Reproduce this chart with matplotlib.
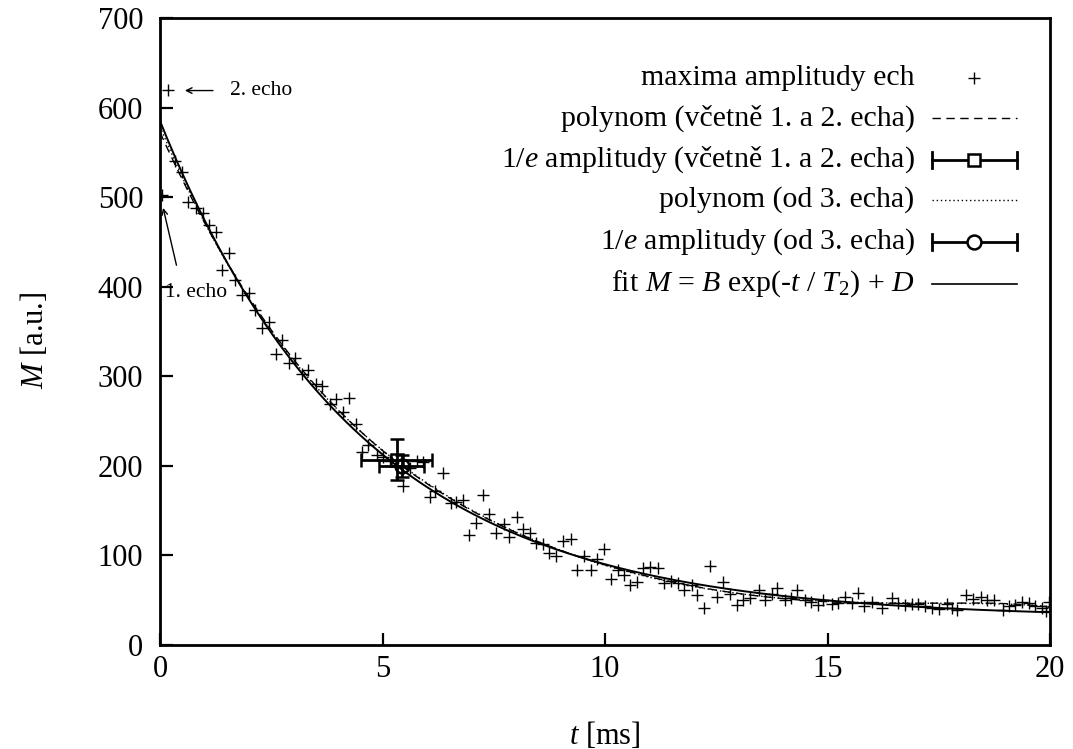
import numpy as np
import matplotlib
matplotlib.use("Agg")
import matplotlib.pyplot as plt

plt.rcParams['font.family'] = ['Liberation Serif', 'DejaVu Serif']
plt.rcParams['mathtext.fontset'] = 'custom'
plt.rcParams['mathtext.rm'] = 'Liberation Serif'
plt.rcParams['mathtext.it'] = 'Liberation Serif:italic'

# --- data ---------------------------------------------------------------
t_ms = [0.04, 0.19, 0.34, 0.50, 0.64, 0.80, 0.96, 1.09, 1.25, 1.39, 1.55, 1.69,
        1.85, 2.00, 2.13, 2.30, 2.46, 2.60, 2.75, 2.91, 3.03, 3.20, 3.33, 3.51,
        3.63, 3.81, 3.96, 4.12, 4.25, 4.40, 4.55, 4.68, 4.88, 5.02, 5.17, 5.33,
        5.47, 5.62, 5.77, 5.92, 6.07, 6.18, 6.37, 6.53, 6.66, 6.80, 6.95, 7.10,
        7.25, 7.40, 7.55, 7.73, 7.85, 8.02, 8.16, 8.31, 8.45, 8.61, 8.74, 8.90,
        9.06, 9.23, 9.36, 9.53, 9.68, 9.83, 9.98, 10.13, 10.30, 10.43, 10.56,
        10.73, 10.86, 11.01, 11.18, 11.33, 11.48, 11.63, 11.78, 11.95, 12.07,
        12.22, 12.37, 12.52, 12.66, 12.81, 12.97, 13.11, 13.26, 13.45, 13.60,
        13.75, 13.87, 14.04, 14.17, 14.32, 14.49, 14.64, 14.79, 14.91, 15.09,
        15.24, 15.39, 15.54, 15.69, 15.82, 15.99, 16.22, 16.44, 16.59, 16.74,
        16.89, 17.04, 17.19, 17.34, 17.51, 17.69, 17.79, 17.92, 18.11, 18.28,
        18.46, 18.59, 18.74, 18.94, 19.08, 19.21, 19.38, 19.53, 19.66, 19.81,
        19.92, 19.98]
M_au = [502, 620, 540, 528, 495, 488, 482, 469, 461, 419, 438, 408,
        391, 393, 374, 354, 361, 325, 340, 315, 320, 303, 307, 291,
        289, 269, 275, 260, 276, 247, 216, 223, 212, 210, 205, 200,
        177, 198, 205, 204, 165, 172, 192, 159, 160, 162, 123, 136,
        167, 146, 125, 135, 121, 143, 130, 125, 114, 113, 103, 99,
        116, 118, 84, 99, 84, 96, 107, 74, 84, 78, 67,
        70, 86, 87, 86, 69, 71, 69, 61, 67, 56,
        41, 88, 54, 70, 57, 45, 50, 52, 61, 50,
        57, 64, 50, 52, 61, 50, 48, 45, 50, 46,
        47, 54, 47, 58, 44, 48, 41, 53, 47, 45,
        46, 46, 44, 41, 40, 46, 41, 39, 56, 51,
        54, 50, 50, 39, 43, 45, 48, 47, 43, 41,
        38, 48]

# fit parameters M = B exp(-t/T2) + D
fit_B = 555.0
fit_T2 = 4.5
fit_D = 30.0

# 1/e amplitude points (t, M, xerr, yerr)
sq_t, sq_M, sq_xerr, sq_yerr = 5.32, 207.0, 0.80, 23.0
ci_t, ci_M, ci_xerr, ci_yerr = 5.43, 200.0, 0.50, 12.0

labels = ["maxima amplitudy ech",
          "polynom (včetně 1. a 2. echa)",
          "1/$e$ amplitudy (včetně 1. a 2. echa)",
          "polynom (od 3. echa)",
          "1/$e$ amplitudy (od 3. echa)",
          "fit $M$ = $B$ exp(-$t$ / $T_2$) + $D$"]

# --- figure -------------------------------------------------------------
W, H = 1073, 749
fig = plt.figure(figsize=(W/100, H/100), dpi=100)
ax = fig.add_axes([160/W, 1-645/H, 890/W, 627/H])

t = np.array(t_ms)
M = np.array(M_au)
tt = np.linspace(0, 20, 600)

p_all = np.polyfit(t, M, 6)
p_3 = np.polyfit(t[2:], M[2:], 6)

ax.plot(t, M, ls='none', marker='+', ms=9, mew=1.0, color='black')
ax.plot(tt, np.polyval(p_all, tt), color='black', lw=1.0, ls=(0, (6, 4)))
ax.errorbar([sq_t], [sq_M], xerr=[sq_xerr], yerr=[sq_yerr], fmt='s', ms=9,
            mfc='none', mec='black', mew=1.8, ecolor='black', elinewidth=2.0,
            capsize=5, capthick=2.0)
ax.plot(tt, np.polyval(p_3, tt), color='black', lw=1.0, ls=(0, (1, 2)))
ax.errorbar([ci_t], [ci_M], xerr=[ci_xerr], yerr=[ci_yerr], fmt='o', ms=10,
            mfc='none', mec='black', mew=1.8, ecolor='black', elinewidth=2.0,
            capsize=5, capthick=2.0)
ax.plot(tt, fit_B*np.exp(-tt/fit_T2) + fit_D, color='black', lw=1.4)

ax.set_xlim(0, 20)
ax.set_ylim(0, 700)
ax.set_xticks([0, 5, 10, 15, 20])
ax.set_yticks(np.arange(0, 701, 100))
ax.tick_params(direction='in', length=9, width=1.6, labelsize=22)
ax.tick_params(axis='x', pad=7)
ax.tick_params(axis='y', pad=12)
for s in ax.spines.values():
    s.set_linewidth(2.0)
fig.text(605/W, 1-735/H, "$t$ [ms]", fontsize=22, ha='center', va='center')
fig.text(35/W, 1-340/H, "$M$ [a.u.]", fontsize=22, ha='center', va='center',
         rotation=90)

# annotations
ax.annotate("", xy=(0.56, 619), xytext=(1.19, 619),
            arrowprops=dict(arrowstyle='->', lw=1.0, color='black',
                            shrinkA=0, shrinkB=0))
ax.text(1.57, 619, "2. echo", fontsize=15.5, va='center', ha='left')
ax.annotate("", xy=(0.07, 488), xytext=(0.37, 424),
            arrowprops=dict(arrowstyle='->', lw=1.0, color='black',
                            shrinkA=0, shrinkB=0))
ax.text(0.11, 393, "1. echo", fontsize=15.5, va='center', ha='left')

# manual gnuplot-style key
rows = [0.904, 0.8405, 0.7735, 0.7097, 0.6427, 0.5758]
tx = 0.848
x0, x1 = 0.867, 0.963
xm = (x0 + x1) / 2
tr = ax.transAxes
for lab, y in zip(labels, rows):
    ax.text(tx, y, lab, transform=tr, ha='right', va='center', fontsize=21.5)
ax.plot([xm], [rows[0]], transform=tr, marker='+', ms=8, mew=1.0, color='black')
ax.plot([x0, x1], [rows[1]]*2, transform=tr, color='black', lw=1.0, ls=(0, (6, 4)))
for y, mk, ms in [(rows[2], 's', 9), (rows[4], 'o', 10)]:
    ax.plot([x0, x1], [y, y], transform=tr, color='black', lw=2.0)
    ax.plot([x0, x0], [y-0.013, y+0.013], transform=tr, color='black', lw=2.0)
    ax.plot([x1, x1], [y-0.013, y+0.013], transform=tr, color='black', lw=2.0)
    ax.plot([xm], [y], transform=tr, marker=mk, ms=ms, mfc='white', mec='black', mew=1.8)
ax.plot([x0, x1], [rows[3]]*2, transform=tr, color='black', lw=1.0, ls=(0, (1, 2)))
ax.plot([x0, x1], [rows[5]]*2, transform=tr, color='black', lw=1.2)

fig.savefig("out.png", dpi=100)
